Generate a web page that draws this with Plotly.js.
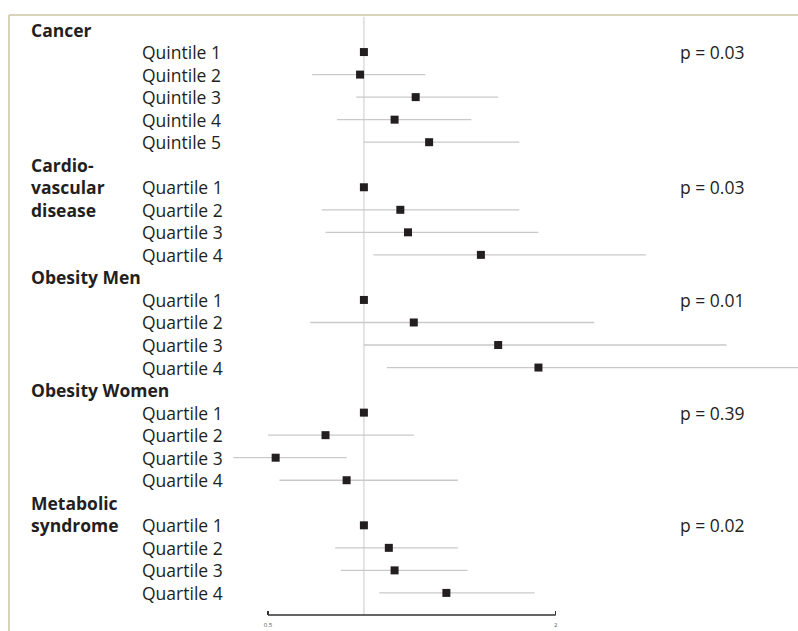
<!DOCTYPE html>
<html>
<head>
<meta charset="utf-8">
<script src="https://cdn.plot.ly/plotly-3.0.1.min.js"></script>
<style>html,body{margin:0;padding:0;background:#fff;}#chart{width:798px;height:631px;}</style>
</head>
<body>
<div id="chart"></div>
<script>
// ---- data ----
const groupLabelLines = [["Cancer"], ["Cardio-", "vascular", "disease"], ["Obesity Men"], ["Obesity Women"], ["Metabolic", "syndrome"]];
const levelLabels = [
  ["Quintile 1", "Quintile 2", "Quintile 3", "Quintile 4", "Quintile 5"],
  ["Quartile 1", "Quartile 2", "Quartile 3", "Quartile 4"],
  ["Quartile 1", "Quartile 2", "Quartile 3", "Quartile 4"],
  ["Quartile 1", "Quartile 2", "Quartile 3", "Quartile 4"],
  ["Quartile 1", "Quartile 2", "Quartile 3", "Quartile 4"]
];
const estimates = [
  [1.00, 0.98, 1.27, 1.16, 1.34],
  [1.00, 1.19, 1.23, 1.61],
  [1.00, 1.26, 1.70, 1.91],
  [1.00, 0.80, 0.54, 0.91],
  [1.00, 1.13, 1.16, 1.43]
];
const lowerCI = [
  [1.00, 0.73, 0.96, 0.86, 1.00],
  [1.00, 0.78, 0.80, 1.05],
  [1.00, 0.72, 1.00, 1.12],
  [1.00, 0.50, 0.32, 0.56],
  [1.00, 0.85, 0.88, 1.08]
];
const upperCI = [
  [1.00, 1.32, 1.70, 1.56, 1.81],
  [1.00, 1.81, 1.91, 2.47],
  [1.00, 2.20, 2.89, 3.30],
  [1.00, 1.26, 0.91, 1.49],
  [1.00, 1.49, 1.54, 1.89]
];
const pValues = ["p = 0.03", "p = 0.03", "p = 0.01", "p = 0.39", "p = 0.02"];
const tickValues = [0.5, 2];
const tickLabels = ["0.5", "2"];
const referenceValue = 1;

// ---- build rows ----
const W = 798;
const FONT = "Open Sans, sans-serif";
const FS = 17.5;
const TXT = "#231f20";
const xs = [], ys = [], ep = [], em = [];
const annotations = [];
let row = 0;
groupLabelLines.forEach((lines, g) => {
  const headerRow = row;
  lines.forEach((t, i) => {
    annotations.push({xref: "paper", yref: "y", x: 29 / W, y: headerRow + i, text: "<b>" + t + "</b>",
      showarrow: false, xanchor: "left", yanchor: "middle", font: {family: FONT, size: FS, color: TXT}});
  });
  row++;
  levelLabels[g].forEach((lab, k) => {
    annotations.push({xref: "paper", yref: "y", x: 140 / W, y: row, text: lab,
      showarrow: false, xanchor: "left", yanchor: "middle", font: {family: FONT, size: FS, color: TXT}});
    if (k === 0) {
      annotations.push({xref: "paper", yref: "y", x: 678 / W, y: row, text: pValues[g],
        showarrow: false, xanchor: "left", yanchor: "middle", font: {family: FONT, size: FS, color: TXT}});
    }
    xs.push(estimates[g][k]);
    ys.push(row);
    ep.push(upperCI[g][k] - estimates[g][k]);
    em.push(estimates[g][k] - lowerCI[g][k]);
    row++;
  });
});

const trace = {
  type: "scatter", mode: "markers", x: xs, y: ys,
  marker: {symbol: "square", size: 8, color: "#231f20"},
  error_x: {type: "data", symmetric: false, array: ep, arrayminus: em, width: 0, thickness: 1.3, color: "#c9c9c9"},
  hoverinfo: "x+y", showlegend: false
};

const frameColor = "#cbc6a6";
const layout = {
  width: 798, height: 631,
  margin: {l: 0, r: 0, t: 15, b: 16, pad: 0},
  paper_bgcolor: "#fff", plot_bgcolor: "#fff",
  showlegend: false,
  xaxis: {
    range: [-0.897, 3.263], showgrid: false, zeroline: false, showline: false,
    tickvals: tickValues, ticktext: tickLabels, ticks: "inside", ticklen: 4, tickwidth: 1.3, tickcolor: "#333",
    tickfont: {family: FONT, size: 6, color: "#555"}, ticklabelstandoff: 5
  },
  yaxis: {range: [25.98, -0.644], visible: false, showgrid: false, zeroline: false},
  shapes: [
    {type: "line", xref: "x", yref: "paper", x0: referenceValue, x1: referenceValue, y0: 0, y1: 0.997, layer: "below",
      line: {color: "#dcdcdc", width: 1.5}},
    {type: "line", xref: "x", yref: "paper", x0: tickValues[0], x1: tickValues[1], y0: 0, y1: 0,
      line: {color: "#333", width: 1.3}},
    {type: "line", xref: "paper", yref: "paper", x0: 9 / W, x1: 1, y0: 1, y1: 1, line: {color: frameColor, width: 1.5}},
    {type: "line", xref: "paper", yref: "paper", x0: 9 / W, x1: 9 / W, y0: -16 / 600, y1: 1, line: {color: frameColor, width: 1.5}}
  ],
  annotations: annotations
};

Plotly.newPlot("chart", [trace], layout, {displayModeBar: false, staticPlot: true});
</script>
</body>
</html>
